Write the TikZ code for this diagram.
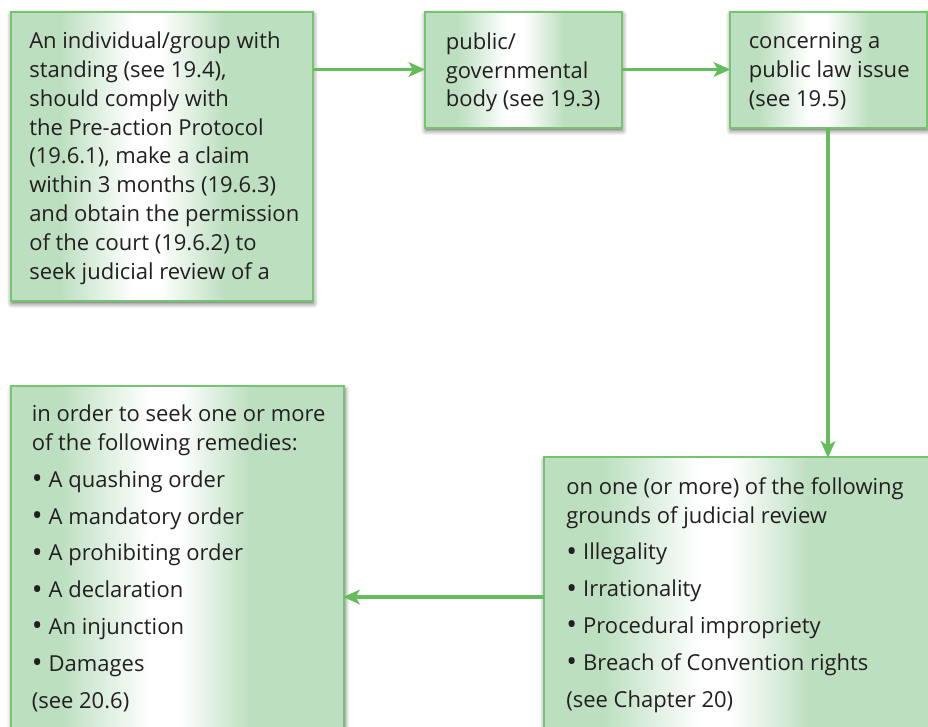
\documentclass[tikz,border=0pt]{standalone}
\usepackage{fontspec}
\setmainfont{Open Sans}
\usetikzlibrary{arrows.meta,shadows.blur}

\definecolor{boxgreen}{RGB}{188,223,192}
\definecolor{edgegreen}{RGB}{118,196,112}
\definecolor{arrowgreen}{RGB}{100,188,92}
\definecolor{ink}{RGB}{35,31,32}

% first line strut: baseline sits 20 units below the text node's top
\newcommand{\topstrut}{\rule{0pt}{15pt}}
\newcommand{\bul}{\makebox[12.7pt][l]{\raisebox{-0.06em}{\scalebox{1.3}{•}}}}

% light band across box #1: fade to white from x=#2 to #3, white up to #4,
% back to green at #5; the border is drawn again on top
\newcommand{\lightband}[5]{%
  \begin{scope}
    \clip (#1.south west) rectangle (#1.north east);
    \shade[left color=boxgreen, right color=white] (#2,-100) rectangle (#3+0.3,900);
    \fill[white] (#3,-100) rectangle (#4,900);
    \shade[left color=white, right color=boxgreen] (#4-0.3,-100) rectangle (#5,900);
  \end{scope}
  \draw[boxedge] (#1.south west) rectangle (#1.north east);
}

\tikzset{
  boxedge/.style={draw=edgegreen, line width=1.5pt},
  box/.style={boxedge, fill=boxgreen, anchor=north west,
    inner sep=0pt, outer sep=0pt,
    blur shadow={shadow xshift=0.8pt, shadow yshift=-2.4pt,
      shadow blur radius=3.5pt, shadow opacity=60}},
  txt/.style={anchor=north west, inner sep=0pt, align=left, text=ink,
    font=\fontsize{16.5pt}{21.6pt}\selectfont},
  flow/.style={draw=arrowgreen, line width=2.4pt, shorten >=-0.6pt,
    -{Stealth[length=12.5pt, width=11pt, inset=3.2pt]}},
}

\begin{document}
\begin{tikzpicture}[x=0.75pt, y=-0.75pt]
  \useasboundingbox (0,0) rectangle (928,726);

  % boxes
  \node[box, minimum width=0.75pt*302, minimum height=0.75pt*289]
    (claim) at (10.5,11.5) {};
  \lightband{claim}{60}{133}{160}{225}
  \node[box, minimum width=0.75pt*197, minimum height=0.75pt*116]
    (body) at (424.5,11.5) {};
  \lightband{body}{457}{507}{524}{564}
  \node[box, minimum width=0.75pt*197, minimum height=0.75pt*116]
    (issue) at (729.5,11.5) {};
  \lightband{issue}{759}{809}{826}{869}
  \node[box, minimum width=0.75pt*333, minimum height=0.75pt*420]
    (remedies) at (11,386) {};
  \lightband{remedies}{60}{150}{180}{250}
  \node[box, minimum width=0.75pt*420, minimum height=0.75pt*281]
    (grounds) at (543.5,457) {};
  \lightband{grounds}{603}{700}{730}{810}

  % texts
  \node[txt] (claimtext) at (29,28.5) {\topstrut An individual/group with\\
    standing (see 19.4),\\
    should comply with\\
    the Pre-action Protocol\\
    (19.6.1), make a claim\\
    within 3 months (19.6.3)\\
    and obtain the permission\\
    of the court (19.6.2) to\\
    seek judicial review of a};
  \node[txt] (bodytext) at (445.5,29) {\topstrut public/\\
    governmental\\
    body (see 19.3)};
  \node[txt] (issuetext) at (748.5,28.5) {\topstrut concerning a\\
    public law issue\\
    (see 19.5)};
  \node[txt] (remediestext) at (31.5,401.5) {\topstrut in order to seek one or more\\
    of the following remedies:\\[6pt]
    \bul A quashing order\\[6pt]
    \bul A mandatory order\\[6pt]
    \bul A prohibiting order\\[6pt]
    \bul A declaration\\[6pt]
    \bul An injunction\\[6pt]
    \bul Damages\\[6pt]
    (see 20.6)};
  \node[txt] (groundstext) at (566,474) {\topstrut on one (or more) of the following\\
    grounds of judicial review\\[6pt]
    \bul Illegality\\[6pt]
    \bul Irrationality\\[6pt]
    \bul Procedural impropriety\\[6pt]
    \bul Breach of Convention rights\\[6pt]
    (see Chapter 20)};

  % connectors
  \draw[flow] (claim.east |- body.west) -- (body.west);
  \draw[flow] (body.east) -- (body.east -| issue.west);
  \draw[flow] (issue.south) -- (issue.south |- grounds.north);
  \draw[flow] (grounds.west |- 0,597) -- (remedies.east |- 0,597);
\end{tikzpicture}
\end{document}
